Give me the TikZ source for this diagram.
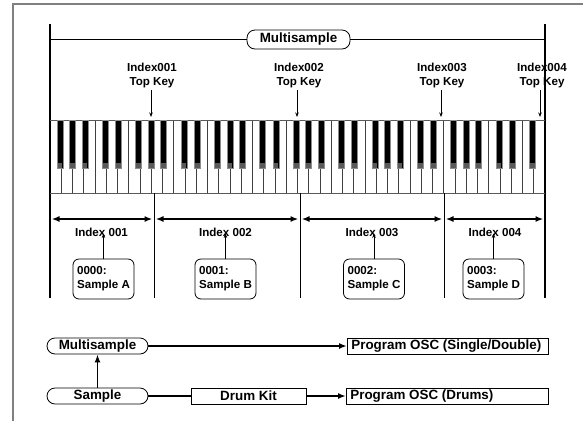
\documentclass[tikz,border=0pt]{standalone}
\usepackage{fontspec}
\setmainfont{Liberation Sans}
\usetikzlibrary{arrows.meta}
\begin{document}
\begin{tikzpicture}[x=1pt,y=-1pt,
  small/.style={font=\fontsize{11.6}{14}\selectfont\bfseries},
  big/.style={font=\fontsize{13.4}{15}\selectfont\bfseries},
  pill/.style={draw, rounded corners=8pt, big, inner sep=0pt, minimum width=101pt, minimum height=16pt, line width=0.8pt},
  sqbox/.style={draw, big, inner xsep=4pt, inner ysep=0pt, minimum height=16pt, line width=0.8pt},
  samplebox/.style={draw, rounded corners=6pt, small, align=left, inner sep=0pt, minimum width=61pt, minimum height=40pt, line width=0.8pt},
  toplabel/.style={small, align=center, inner sep=0pt, anchor=north},
  idxlabel/.style={small, inner sep=0pt},
  thinarrow/.style={-{Stealth[length=4.5pt,width=3.5pt]}, line width=0.7pt},
  spanarrow/.style={{Latex[length=8pt,width=6pt]}-{Latex[length=8pt,width=6pt]}, line width=1.8pt},
  flowarrow/.style={-{Latex[length=8pt,width=6pt]}, line width=1.8pt},
  keyline/.style={draw=black!75, line width=0.6pt}
]
\useasboundingbox (0,0) rectangle (583,421);

% outer frame (partial)
\draw[gray, line width=1.2pt] (13,421) -- (13,4) -- (583,4);

% main vertical boundaries
\draw[line width=1.8pt] (50,24) -- (50,298);
\draw[line width=1.8pt] (545,24) -- (545,298);

% top multisample label
\node[pill, minimum width=103pt, minimum height=19pt] (mstop) at (298.5,39.5) {Multisample};
\coordinate (msL) at (50,39.5);
\coordinate (msR) at (545,39.5);
\draw[line width=0.9pt] (msL) -- (mstop.west);
\draw[line width=0.9pt] (mstop.east) -- (msR);

% keyboard: white key lines
\foreach \k in {1,...,43} {
  \draw[keyline] ({50+\k*11.25},120) -- ({50+\k*11.25},193);
}
\draw[draw=black!65, line width=0.8pt] (50,120) -- (545,120);
\draw[draw=black!65, line width=0.8pt] (50,193) -- (545,193);
% black keys
\foreach \k in {1,...,43} {
  \pgfmathtruncatemacro\m{mod(\k-1,7)}
  \ifnum\m=3 \else\ifnum\m=6 \else
    \pgfmathsetmacro\off{{-1.2,0,1.2,0,-1,1,0}[\m]}
    \pgfmathsetmacro\xc{50+\k*11.25+\off}
    \filldraw[fill=black, draw=black!45, line width=0.7pt] ({\xc-3},120) rectangle ({\xc+3},168);
    \fill[black!65] ({\xc-2.4},163) rectangle ({\xc+2.4},167.6);
  \fi\fi
}

% top key labels
\node[toplabel] (t1) at (152,63) {Index001\\Top Key};
\node[toplabel] (t2) at (299,63) {Index002\\Top Key};
\node[toplabel] (t3) at (442,63) {Index003\\Top Key};
\node[toplabel] (t4) at (542,63) {Index004\\Top Key};
\coordinate (k1) at (151,117);
\coordinate (k2) at (297,117);
\coordinate (k3) at (441,117);
\coordinate (k4) at (540,117);
\draw[thinarrow] (k1 |- 0,90) -- (k1);
\draw[thinarrow] (k2 |- 0,90) -- (k2);
\draw[thinarrow] (k3 |- 0,90) -- (k3);
\draw[thinarrow] (k4 |- 0,90) -- (k4);

% dividers
\coordinate (d1a) at (154,193); \coordinate (d1b) at (154,298);
\coordinate (d2a) at (300,193); \coordinate (d2b) at (300,298);
\coordinate (d3a) at (444,193); \coordinate (d3b) at (444,298);
\draw[line width=0.9pt] (d1a) -- (d1b);
\draw[line width=0.9pt] (d2a) -- (d2b);
\draw[line width=0.9pt] (d3a) -- (d3b);

% span arrows
\coordinate (s0) at (51,219);
\coordinate (s1) at (154,219);
\coordinate (s2) at (300,219);
\coordinate (s3) at (444,219);
\coordinate (s4) at (544,219);
\draw[spanarrow] ([xshift=0.5pt]s0) -- ([xshift=-1.5pt]s1);
\draw[spanarrow] ([xshift=1.5pt]s1) -- ([xshift=-1.5pt]s2);
\draw[spanarrow] ([xshift=1.5pt]s2) -- ([xshift=-1.5pt]s3);
\draw[spanarrow] ([xshift=1.5pt]s3) -- ([xshift=-0.5pt]s4);

% index labels
\node[idxlabel] (i1) at (101.5,232) {Index 001};
\node[idxlabel] (i2) at (225.5,232) {Index 002};
\node[idxlabel] (i3) at (372,232) {Index 003};
\node[idxlabel] (i4) at (495,232) {Index 004};

% sample boxes
\node[samplebox] (sa) at (103.5,279) {0000:\\Sample A};
\node[samplebox] (sb) at (225.5,279) {0001:\\Sample B};
\node[samplebox] (sc) at (374,279) {0002:\\Sample C};
\node[samplebox] (sd) at (493.5,279) {0003:\\Sample D};
\draw[thinarrow] (sa.north) -- ([yshift=3pt]sa.north |- i1.south);
\draw[thinarrow] (sb.north) -- ([yshift=3pt]sb.north |- i2.south);
\draw[thinarrow] (sc.north) -- ([yshift=3pt]sc.north |- i3.south);
\draw[thinarrow] (sd.north) -- ([yshift=3pt]sd.north |- i4.south);

% bottom flow
\node[pill] (msb) at (97.5,346) {Multisample};
\node[pill] (smp) at (97.5,396) {Sample};
\node[sqbox, minimum width=115pt] (dk) at (248.5,396) {Drum Kit};
\node[sqbox, anchor=west] (ps) at (347,346) {\makebox[193pt][l]{Program OSC (Single/Double)}};
\node[sqbox, anchor=west] (pd) at (346,396) {\makebox[194pt][l]{Program OSC (Drums)}};
\draw[flowarrow] (smp.north) -- (msb.south);
\draw[flowarrow] (msb.east) -- (ps.west);
\draw[line width=1.8pt] (smp.east) -- (dk.west);
\draw[flowarrow] (dk.east) -- (pd.west);
\end{tikzpicture}
\end{document}
